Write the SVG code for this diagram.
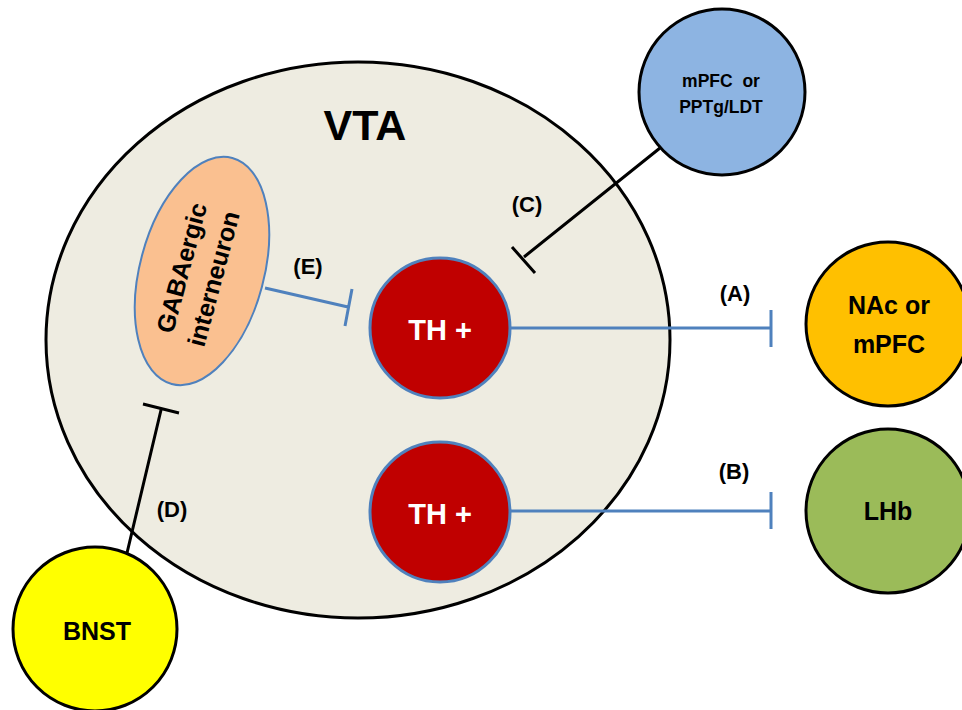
<svg xmlns="http://www.w3.org/2000/svg" width="962" height="710" viewBox="0 0 962 710">
<style>
text{font-family:"Liberation Sans",Arial,sans-serif;font-weight:bold;text-anchor:middle;fill:#000}
.region{stroke:#000;stroke-width:3}
.th{fill:#C00000;stroke:#4F81BD;stroke-width:3}
.thl{fill:#fff;font-size:29px}
.blue{stroke:#4F81BD;stroke-width:3;fill:none}
.black{stroke:#000;stroke-width:3;fill:none}
.lab{font-size:22px}
.big{font-size:25px}
</style>
<rect width="962" height="710" fill="#fff"/>
<g id="vta">
<ellipse cx="358" cy="340" rx="312" ry="278" fill="#EEECE1" class="region"/>
<text x="365" y="140" style="font-size:43px">VTA</text>
</g>
<g id="gaba">
<ellipse cx="202" cy="271" rx="62" ry="117" transform="rotate(15 202 271)" fill="#FAC090" stroke="#4F81BD" stroke-width="2"/>
<text transform="translate(190 270) rotate(-75)" style="font-size:25px">GABAergic</text>
<text transform="translate(222 281) rotate(-75)" style="font-size:25px">interneuron</text>
</g>
<g id="th1">
<circle cx="440" cy="328" r="70" class="th"/>
<text x="440" y="340" class="thl">TH +</text>
</g>
<g id="th2">
<circle cx="440" cy="512" r="70" class="th"/>
<text x="440" y="524" class="thl">TH +</text>
</g>
<g id="mpfc-ppt">
<circle cx="722" cy="92" r="83" fill="#8DB4E2" class="region"/>
<text x="721" y="87" style="font-size:17.5px" xml:space="preserve">mPFC  or</text>
<text x="721" y="113" style="font-size:17.5px">PPTg/LDT</text>
</g>
<g id="nac">
<circle cx="888" cy="324" r="82" fill="#FFC000" class="region"/>
<text x="889" y="314" class="big">NAc or</text>
<text x="889" y="353" class="big">mPFC</text>
</g>
<g id="lhb">
<circle cx="888" cy="511" r="82" fill="#9BBB59" class="region"/>
<text x="888" y="520" class="big">LHb</text>
</g>
<g id="bnst">
<circle cx="95" cy="629" r="82" fill="#FFFF00" class="region"/>
<text x="97" y="640" class="big">BNST</text>
</g>
<g id="connectors">
<path class="blue" d="M510 328H771M771 310V347"/>
<path class="blue" d="M510 511H771M771 492V529"/>
<path class="blue" d="M265 288L348 307M352 289L345 326"/>
<path class="black" d="M660 148L524 257M512 247L535 273"/>
<path class="black" d="M127 553L161 410M143 404L179 413"/>
<text x="308" y="274" class="lab">(E)</text>
<text x="527" y="212" class="lab">(C)</text>
<text x="735" y="301" class="lab">(A)</text>
<text x="734" y="479" class="lab">(B)</text>
<text x="172" y="517" class="lab">(D)</text>
</g>
</svg>
